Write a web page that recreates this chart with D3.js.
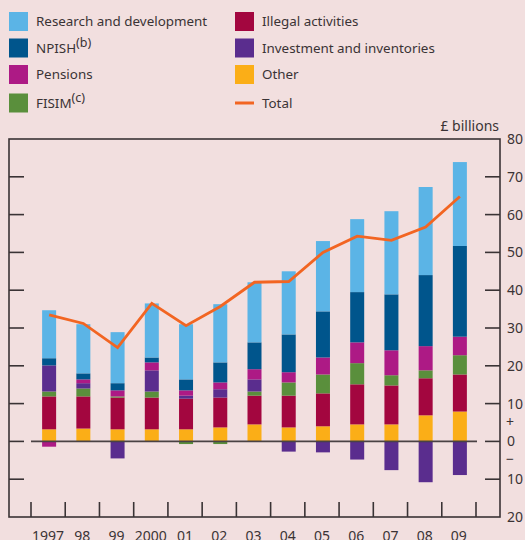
<!DOCTYPE html>
<html>
<head>
<meta charset="utf-8">
<script src="https://cdn.jsdelivr.net/npm/d3@7"></script>
<style>
  html, body { margin: 0; padding: 0; background: #f2dfdf; }
  svg { display: block; font-family: "Noto Sans", sans-serif; }
  .lbl { fill: #3a3335; font-size: 14px; }
  .leg { fill: #3a3335; font-size: 13.4px; }
</style>
</head>
<body>
<svg id="chart" width="525" height="540"></svg>
<script>
// £ billions
const years = ['1997', '98', '99', '2000', '01', '02', '03', '04', '05', '06', '07', '08', '09'];
const rd = [12.7, 13.0, 13.5, 14.3, 14.6, 15.4, 15.9, 16.7, 18.6, 19.3, 22.0, 23.3, 22.2];
const npish = [1.9, 1.6, 1.9, 1.3, 2.9, 5.3, 7.1, 10.0, 12.2, 13.3, 14.8, 18.8, 24.0];
const pensions = [-1.4, 1.0, 1.6, 2.1, 1.4, 1.8, 2.7, 2.7, 4.5, 5.5, 6.6, 6.4, 4.9];
const fisim = [1.3, 2.1, 0.3, 1.6, -0.7, -0.7, 1.1, 3.5, 5.0, 5.6, 2.7, 2.1, 5.1];
const illegal = [8.7, 8.5, 8.4, 8.4, 8.1, 7.9, 7.6, 8.4, 8.7, 10.6, 10.3, 9.8, 9.8];
const investment = [6.9, 1.4, -4.5, 5.6, 0.8, 2.2, 3.2, -2.7, -2.9, -4.8, -7.6, -10.8, -8.9];
const other = [3.2, 3.4, 3.2, 3.2, 3.2, 3.7, 4.5, 3.7, 4.0, 4.5, 4.5, 6.9, 7.9];
const total = [33.5, 31.2, 24.8, 36.5, 30.6, 35.7, 42.1, 42.3, 50.0, 54.3, 53.2, 56.7, 64.8];

const yTicks = [80, 70, 60, 50, 40, 30, 20, 10, 0, -10, -20];

// stacking order, bottom to top
const series = [
    { key: 'other', name: 'Other', values: other, color: '#fbae17' },
    { key: 'illegal', name: 'Illegal activities', values: illegal, color: '#a3063f' },
    { key: 'fisim', name: 'FISIM', sup: '(c)', values: fisim, color: '#5a8f3c' },
    { key: 'investment', name: 'Investment and inventories', values: investment, color: '#5a2d8e' },
    { key: 'pensions', name: 'Pensions', values: pensions, color: '#ad1a85' },
    { key: 'npish', name: 'NPISH', sup: '(b)', values: npish, color: '#00558c' },
    { key: 'rd', name: 'Research and development', values: rd, color: '#5bb4e6' }
];
const colorOf = Object.fromEntries(series.map(s => [s.key, s.color]));

const rows = years.map((year, i) => {
    const row = { year };
    series.forEach(s => { row[s.key] = s.values[i]; });
    return row;
});

const svg = d3.select('#chart');
const box = { left: 9, right: 500, top: 139, bottom: 517 };

const x = d3.scaleBand().domain(years).range([31, 476]);
const y = d3.scaleLinear().domain([-20, 80]).range([box.bottom, box.top]);
const barW = 14;

// frame
svg.append('rect')
    .attr('x', box.left).attr('y', box.top)
    .attr('width', box.right - box.left).attr('height', box.bottom - box.top)
    .attr('fill', 'none').attr('stroke', '#3a3335').attr('stroke-width', 1.6);

// y ticks (inside the frame, both sides)
const inner = yTicks.filter(t => t > -20 && t < 80);
svg.append('g').selectAll('line').data(inner).join('line')
    .attr('x1', box.left).attr('x2', box.left + 15)
    .attr('y1', d => y(d)).attr('y2', d => y(d))
    .attr('stroke', '#3a3335').attr('stroke-width', 1.6);
svg.append('g').selectAll('line').data(inner).join('line')
    .attr('x1', box.right - 15).attr('x2', box.right)
    .attr('y1', d => y(d)).attr('y2', d => y(d))
    .attr('stroke', '#3a3335').attr('stroke-width', 1.6);

// right labels
svg.append('g').selectAll('text').data(yTicks).join('text')
    .attr('class', 'lbl')
    .attr('x', 507).attr('y', d => y(d)).attr('dy', '0.36em')
    .text(d => Math.abs(d));
svg.append('text').attr('class', 'lbl').attr('font-size', '17px')
    .attr('x', 506).attr('y', y(0) - 19).attr('dy', '0.36em').text('+');
svg.append('text').attr('class', 'lbl').attr('font-size', '17px')
    .attr('x', 506).attr('y', y(0) + 18).attr('dy', '0.36em').text('\u2212');
svg.append('text').attr('class', 'lbl').attr('x', 499).attr('y', 131).attr('text-anchor', 'end').text('£ billions');

// x ticks at band edges
const edges = years.map(d => x(d)).concat([x(years[years.length - 1]) + x.bandwidth()]);
svg.append('g').selectAll('line').data(edges).join('line')
    .attr('x1', d => d).attr('x2', d => d)
    .attr('y1', box.bottom).attr('y2', box.bottom - 15)
    .attr('stroke', '#3a3335').attr('stroke-width', 1.6);
svg.append('g').selectAll('text').data(years).join('text')
    .attr('class', 'lbl')
    .attr('x', d => x(d) + x.bandwidth() / 2).attr('y', 541)
    .attr('text-anchor', 'middle')
    .text(d => d);

// bars
const stacked = d3.stack()
    .keys(series.map(s => s.key))
    .offset(d3.stackOffsetDiverging)(rows);

svg.append('g').selectAll('g').data(stacked).join('g')
    .attr('fill', d => colorOf[d.key])
    .selectAll('rect').data(d => d).join('rect')
    .attr('x', d => x(d.data.year) + (x.bandwidth() - barW) / 2 + 1)
    .attr('width', barW)
    .attr('y', d => y(Math.max(d[0], d[1])))
    .attr('height', d => Math.abs(y(d[0]) - y(d[1])));

// zero line
svg.append('line')
    .attr('x1', 31).attr('x2', 477)
    .attr('y1', y(0)).attr('y2', y(0))
    .attr('stroke', '#4a4244').attr('stroke-width', 1.8);

// total line
const line = d3.line()
    .x((d, i) => x(years[i]) + x.bandwidth() / 2 + 1)
    .y(d => y(d));
svg.append('path')
    .datum(total)
    .attr('d', line)
    .attr('fill', 'none').attr('stroke', '#f26522').attr('stroke-width', 2.8)
    .attr('stroke-linejoin', 'miter');

// legend
const legendItems = [
    { s: 'rd', col: 0, row: 0 }, { s: 'npish', col: 0, row: 1 },
    { s: 'pensions', col: 0, row: 2 }, { s: 'fisim', col: 0, row: 3 },
    { s: 'illegal', col: 1, row: 0 }, { s: 'investment', col: 1, row: 1 },
    { s: 'other', col: 1, row: 2 }
];
const rowY = [21.5, 48, 74.5, 103];
const colX = [9, 235];
const byKey = Object.fromEntries(series.map(s => [s.key, s]));
const lg = svg.append('g');
legendItems.forEach(it => {
    const s = byKey[it.s];
    lg.append('rect')
        .attr('x', colX[it.col]).attr('y', rowY[it.row] - 9.5)
        .attr('width', 19).attr('height', 19)
        .attr('fill', s.color);
    const t = lg.append('text').attr('class', 'leg')
        .attr('x', colX[it.col] + 27).attr('y', rowY[it.row]).attr('dy', '0.36em')
        .text(s.name);
    if (s.sup) {
        t.append('tspan').attr('font-size', '12.5px').attr('dy', '-0.45em').text(s.sup);
    }
});
lg.append('line')
    .attr('x1', colX[1]).attr('x2', colX[1] + 19)
    .attr('y1', rowY[3]).attr('y2', rowY[3])
    .attr('stroke', '#f26522').attr('stroke-width', 3);
lg.append('text').attr('class', 'leg')
    .attr('x', colX[1] + 27).attr('y', rowY[3]).attr('dy', '0.36em')
    .text('Total');
</script>
</body>
</html>
